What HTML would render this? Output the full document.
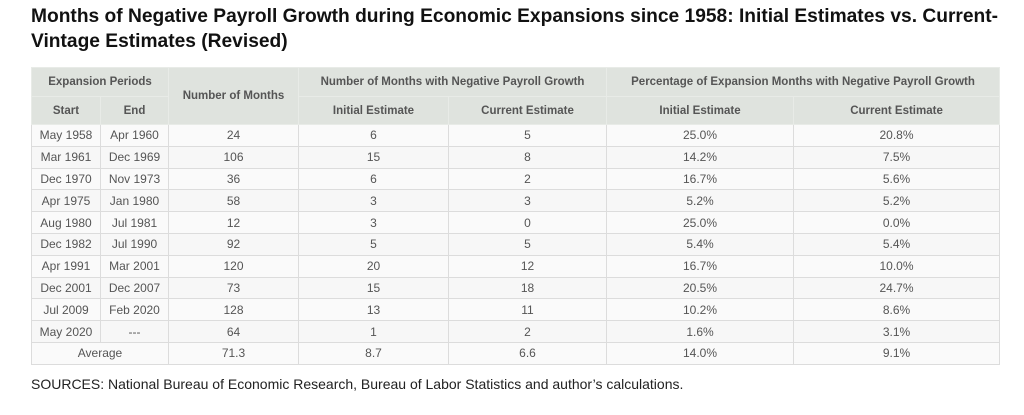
<!DOCTYPE html>
<html><head><meta charset="utf-8"><style>
body{margin:0;width:1024px;height:415px;background:#fff;font-family:"Liberation Sans",sans-serif;position:relative;overflow:hidden}
.t{position:absolute;left:31px;font-size:19.2px;font-weight:bold;color:#111;white-space:nowrap;letter-spacing:0}
table{position:absolute;left:31px;top:67px;border-collapse:collapse;table-layout:fixed;width:968px;font-size:12px;color:#555}
td,th{border:1px solid #dcdcdc;text-align:center;padding:0;overflow:hidden;white-space:nowrap}
th{background:#dfe3de;color:#555;font-weight:bold;border-color:#e8ebe7;font-size:11.5px}
tr.h1 th{height:28px}tr.h2 th{height:27px}
td{height:20.8px;background:#f7f7f7}
tr:nth-child(odd) td{background:#fafafa}
.s{position:absolute;left:31px;top:376px;font-size:14px;color:#222}
</style></head><body>
<div class="t" style="top:6px">Months of Negative Payroll Growth during Economic Expansions since 1958: Initial Estimates vs. Current-</div>
<div class="t" style="top:31px">Vintage Estimates (Revised)</div>
<table>
<colgroup><col style="width:69px"><col style="width:68px"><col style="width:130px"><col style="width:150px"><col style="width:158px"><col style="width:187px"><col style="width:206px"></colgroup>
<tr class="h1"><th colspan="2">Expansion Periods</th><th rowspan="2">Number of Months</th><th colspan="2">Number of Months with Negative Payroll Growth</th><th colspan="2">Percentage of Expansion Months with Negative Payroll Growth</th></tr>
<tr class="h2"><th>Start</th><th>End</th><th>Initial Estimate</th><th>Current Estimate</th><th>Initial Estimate</th><th>Current Estimate</th></tr>
<tr><td>May 1958</td><td>Apr 1960</td><td>24</td><td>6</td><td>5</td><td>25.0%</td><td>20.8%</td></tr>
<tr><td>Mar 1961</td><td>Dec 1969</td><td>106</td><td>15</td><td>8</td><td>14.2%</td><td>7.5%</td></tr>
<tr><td>Dec 1970</td><td>Nov 1973</td><td>36</td><td>6</td><td>2</td><td>16.7%</td><td>5.6%</td></tr>
<tr><td>Apr 1975</td><td>Jan 1980</td><td>58</td><td>3</td><td>3</td><td>5.2%</td><td>5.2%</td></tr>
<tr><td>Aug 1980</td><td>Jul 1981</td><td>12</td><td>3</td><td>0</td><td>25.0%</td><td>0.0%</td></tr>
<tr><td>Dec 1982</td><td>Jul 1990</td><td>92</td><td>5</td><td>5</td><td>5.4%</td><td>5.4%</td></tr>
<tr><td>Apr 1991</td><td>Mar 2001</td><td>120</td><td>20</td><td>12</td><td>16.7%</td><td>10.0%</td></tr>
<tr><td>Dec 2001</td><td>Dec 2007</td><td>73</td><td>15</td><td>18</td><td>20.5%</td><td>24.7%</td></tr>
<tr><td>Jul 2009</td><td>Feb 2020</td><td>128</td><td>13</td><td>11</td><td>10.2%</td><td>8.6%</td></tr>
<tr><td>May 2020</td><td>---</td><td>64</td><td>1</td><td>2</td><td>1.6%</td><td>3.1%</td></tr>
<tr><td colspan="2">Average</td><td>71.3</td><td>8.7</td><td>6.6</td><td>14.0%</td><td>9.1%</td></tr>
</table>
<div class="s">SOURCES: National Bureau of Economic Research, Bureau of Labor Statistics and author’s calculations.</div>
</body></html>
